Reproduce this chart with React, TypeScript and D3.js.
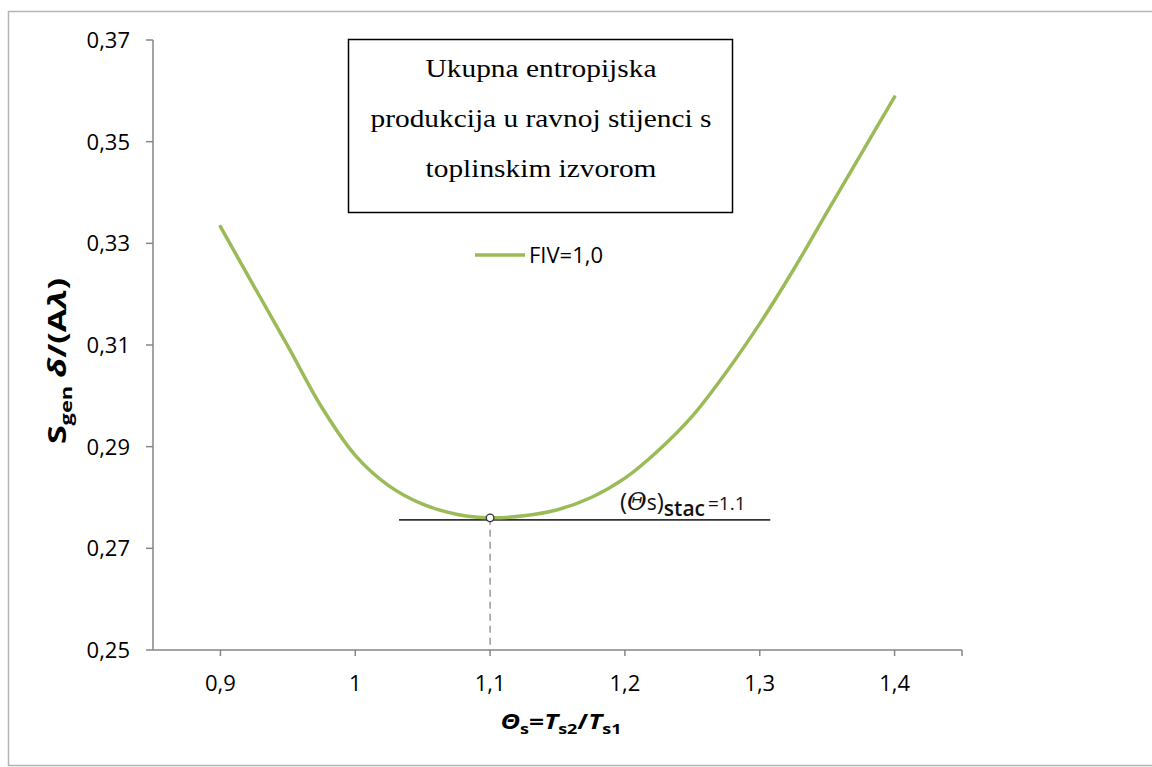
import React from "react";
import * as d3 from "d3";

const thetaValues = [0.9, 0.925, 0.95, 0.975, 1.0, 1.025, 1.05, 1.075, 1.1, 1.125, 1.15, 1.175, 1.2, 1.225, 1.25, 1.275, 1.3, 1.325, 1.35, 1.375, 1.4];
const sgenValues = [0.3333, 0.3215, 0.3098, 0.2978, 0.2883, 0.2823, 0.2787, 0.2767, 0.276, 0.2764, 0.2776, 0.28, 0.2838, 0.2893, 0.296, 0.3046, 0.3142, 0.3248, 0.3362, 0.3475, 0.3588];
const xTicks = [0.9, 1.0, 1.1, 1.2, 1.3, 1.4];
const xTickLabels = ["0,9", "1", "1,1", "1,2", "1,3", "1,4"];
const yTicks = [0.25, 0.27, 0.29, 0.31, 0.33, 0.35, 0.37];
const yTickLabels = ["0,25", "0,27", "0,29", "0,31", "0,33", "0,35", "0,37"];
const seriesName = "FIV=1,0";
const titleLines = ["Ukupna entropijska", "produkcija u ravnoj stijenci s", "toplinskim izvorom"];
const stacX = 1.1;
const stacY = 0.276;
const stacLineY = 0.2756;
const stacLineRange = [1.0325, 1.3078];

const W = 1152;
const H = 767;
const SANS = "'Open Sans', sans-serif";

export default function App() {
  const x = d3.scaleLinear().domain([0.85, 1.45]).range([153, 962]);
  const y = d3.scaleLinear().domain([0.25, 0.37]).range([650, 40]);
  const data = thetaValues.map((t, i) => [t, sgenValues[i]] as [number, number]);
  const line = d3
    .line<[number, number]>()
    .x((d) => x(d[0]))
    .y((d) => y(d[1]))
    .curve(d3.curveCatmullRom.alpha(0.5));
  const axisColor = "#868686";
  const x0 = x.range()[0];
  const x1 = x.range()[1];
  const y0 = y.range()[0];
  const y1 = y.range()[1];

  return (
    <svg
      width={W}
      height={H}
      style={{ position: "absolute", left: 0, top: 0, background: "#fff" }}
    >
      <rect x={0} y={0} width={W} height={H} fill="#fff" />
      {/* outer chart frame */}
      <rect x={8.5} y={11.5} width={W + 20} height={754} fill="none" stroke="#b4b4b4" strokeWidth={1.5} />

      {/* axes */}
      <line x1={x0} x2={x0} y1={y1} y2={y0} stroke={axisColor} strokeWidth={1.5} />
      <line x1={x0} x2={x1} y1={y0} y2={y0} stroke={axisColor} strokeWidth={1.5} />
      {yTicks.map((t, i) => (
        <g key={"y" + i}>
          <line x1={x0 - 7} x2={x0} y1={y(t)} y2={y(t)} stroke={axisColor} strokeWidth={1.5} />
          <text
            x={130}
            y={y(t)}
            dy="0.36em"
            textAnchor="end"
            fontFamily={SANS}
            fontSize={22}
            fill="#000"
          >
            {yTickLabels[i]}
          </text>
        </g>
      ))}
      {xTicks.map((t, i) => (
        <g key={"x" + i}>
          <line x1={x(t)} x2={x(t)} y1={y0} y2={y0 + 6} stroke={axisColor} strokeWidth={1.5} />
          <text
            x={x(t)}
            y={691}
            textAnchor="middle"
            fontFamily={SANS}
            fontSize={22}
            fill="#000"
          >
            {xTickLabels[i]}
          </text>
        </g>
      ))}
      <line x1={x1} x2={x1} y1={y0} y2={y0 + 6} stroke={axisColor} strokeWidth={1.5} />

      {/* stationary point markers */}
      <line
        x1={x(stacX)}
        x2={x(stacX)}
        y1={y(stacY)}
        y2={y0}
        stroke="#7f7f7f"
        strokeWidth={1.2}
        strokeDasharray="7,5"
      />
      <line
        x1={x(stacLineRange[0])}
        x2={x(stacLineRange[1])}
        y1={y(stacLineY)}
        y2={y(stacLineY)}
        stroke="#333"
        strokeWidth={1.8}
      />

      {/* series */}
      <path d={line(data) || ""} fill="none" stroke="#9BBB59" strokeWidth={3.5} strokeLinecap="round" />
      <circle cx={x(stacX)} cy={y(stacY)} r={3.8} fill="#fff" stroke="#333" strokeWidth={1.3} />

      {/* annotation */}
      <text x={620} y={510} fontFamily={SANS} fill="#111">
        <tspan fontSize={24}>(</tspan>
        <tspan fontSize={24} fontFamily="'DejaVu Serif', serif" fontStyle="italic">Θ</tspan>
        <tspan fontSize={21}>s</tspan>
        <tspan fontSize={24}>)</tspan>
        <tspan fontSize={21} fontWeight={600} dy={6}>stac</tspan>
        <tspan fontSize={19} dy={-6} dx={3}>=1.1</tspan>
      </text>

      {/* title box */}
      <rect x={348.5} y={39.5} width={384} height={173} fill="#fff" stroke="#000" strokeWidth={1.5} />
      {titleLines.map((s, i) => (
        <g key={"t" + i} transform={`translate(541, ${77 + i * 50}) scale(1.13, 1)`}>
          <text
            x={0}
            y={0}
            textAnchor="middle"
            fontFamily="'Liberation Serif', 'Times New Roman', serif"
            fontSize={26}
            fill="#000"
          >
            {s}
          </text>
        </g>
      ))}

      {/* legend */}
      <line x1={475} x2={525} y1={255} y2={255} stroke="#9BBB59" strokeWidth={3.5} />
      <text x={529} y={255} dy="0.36em" fontFamily={SANS} fontSize={22} fill="#000">
        {seriesName}
      </text>

      {/* y axis title */}
      <g transform={`translate(66, 361) rotate(-90) scale(1.36, 1)`}>
        <text
          x={0}
          y={0}
          textAnchor="middle"
          fontFamily={SANS}
          fontWeight={700}
          fontSize={25}
          fill="#000"
        >
          <tspan>S</tspan>
          <tspan fontSize={16} dy={6}>gen</tspan>
          <tspan dy={-6} dx={6} fontStyle="italic">δ</tspan>
          <tspan>/(A</tspan>
          <tspan fontStyle="italic">λ</tspan>
          <tspan>)</tspan>
        </text>
      </g>

      {/* x axis title */}
      <g transform={`translate(561, 729) scale(1.2, 1)`}>
        <text x={0} y={0} textAnchor="middle" fontFamily={SANS} fontWeight={700} fontSize={22} fill="#000">
          <tspan fontStyle="italic">Θ</tspan>
          <tspan fontSize={15} dy={5}>s</tspan>
          <tspan dy={-5}>=</tspan>
          <tspan fontStyle="italic">T</tspan>
          <tspan fontSize={15} dy={5}>s2</tspan>
          <tspan dy={-5}>/</tspan>
          <tspan fontStyle="italic">T</tspan>
          <tspan fontSize={15} dy={5}>s1</tspan>
        </text>
      </g>
    </svg>
  );
}
